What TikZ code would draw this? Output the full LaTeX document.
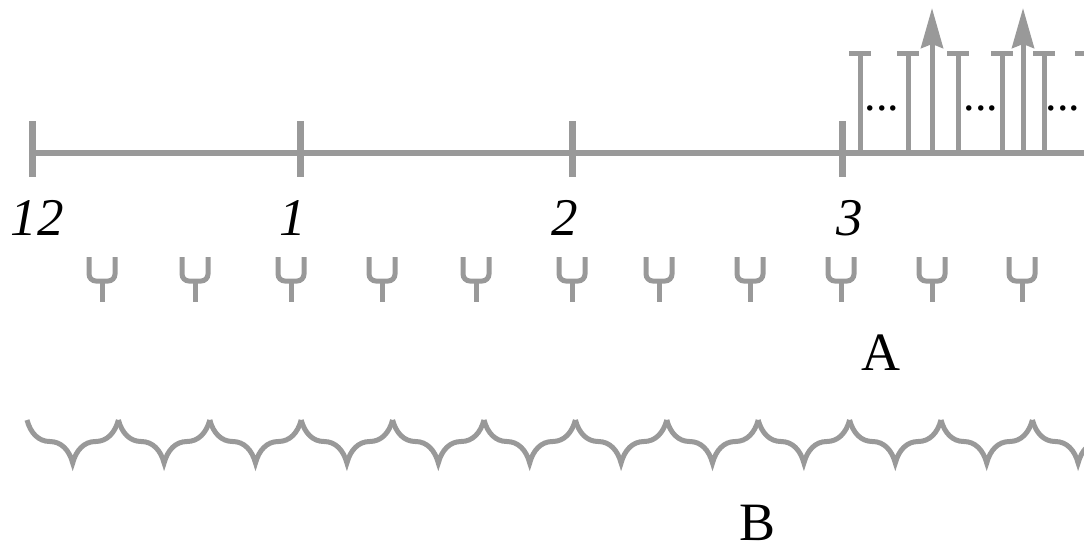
\documentclass[tikz,border=0pt]{standalone}
\usepackage{fontspec}
\setmainfont{Liberation Serif}
\usetikzlibrary{decorations.pathreplacing, arrows.meta}
\definecolor{clockgray}{RGB}{153,153,153}

\tikzset{
  hour/.style = {font = \fontsize{53}{60}\selectfont\itshape, anchor = base, inner sep = 0pt},
  letter/.style = {font = \fontsize{54}{60}\selectfont, anchor = base, inner sep = 0pt},
  dotrow/.style = {font = \fontsize{46}{50}\selectfont, inner sep = 0pt},
  beat/.style = {clockgray, line width = 5pt},
}

\begin{document}
\begin{tikzpicture}[x = 1pt, y = -1pt]
  \useasboundingbox (0,0) rectangle (1084,550);
  \clip (0,0) rectangle (1084,550);
  % time line
  \coordinate (start) at (32,153);
  \coordinate (end) at (1090,153);
  \draw [beat, line width = 6pt] (start) -- (end);
  \foreach \x/\lx/\h/\name in {32/37/12/hzero, 300/293/1/hone, 572/565/2/htwo, 842/850/3/hthree} {
    \draw [beat, line width = 7pt] (\x,121) -- (\x,177);
    \node (\name) at (\lx,235) [hour] {\h};
  }
  % forks
  \foreach \x in {102,195,291,382,476,572,659,750,841,932,1022} {
    \draw [beat, rounded corners = 7pt] (\x-13,257) -- (\x-13,281) -- (\x+13,281) -- (\x+13,257);
    \draw [beat] (\x,281) -- (\x,302);
  }
  \node (A) at (881,370) [letter] {A};
  % braces
  \foreach \i in {0,...,11} {
    \draw [beat, decorate, decoration = {brace, mirror, amplitude = 43pt}]
      (27+91.4*\i,420) -- (118.4+91.4*\i,420);
  }
  \node (B) at (757,540) [letter] {B};
  % subdivisions after 3
  \foreach \x in {860,908,958,1002,1044,1086} {
    \draw [beat] (\x,153) -- (\x,53);
    \draw [beat] (\x-11,53) -- (\x+11,53);
  }
  \foreach \x in {932,1023}
    \draw [beat, -{Stealth[length = 40pt, width = 22pt, inset = 4pt]}] (\x,153) -- (\x,8);
  \foreach \x/\name in {882/dotsa, 981/dotsb, 1063/dotsc}
    \node (\name) at (\x,108) [dotrow] {...};
\end{tikzpicture}
\end{document}
